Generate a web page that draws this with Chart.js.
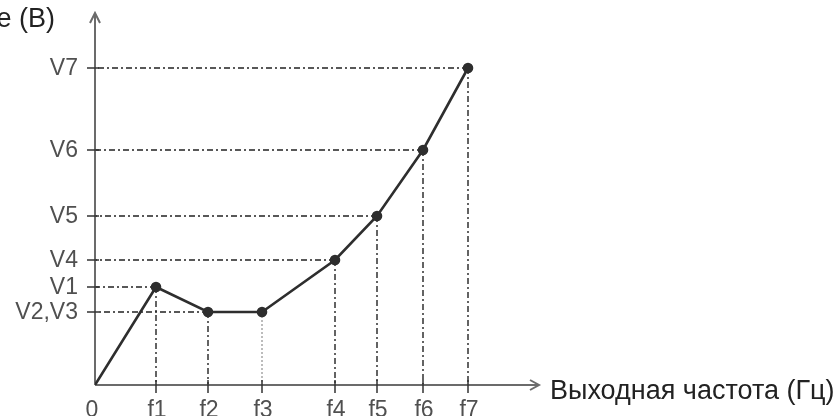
<!DOCTYPE html>
<html>
<head>
<meta charset="utf-8">
<script src="https://cdn.jsdelivr.net/npm/chart.js@4/dist/chart.umd.min.js"></script>
<style>
  html, body { margin: 0; padding: 0; background: #fff; overflow: hidden; }
  #wrap { width: 835px; height: 416px; }
</style>
</head>
<body>
<div id="wrap"><canvas id="vfChart" width="835" height="416"></canvas></div>
<script>
// V/F curve points (arbitrary units)
const freqLabels = ['0', 'f1', 'f2', 'f3', 'f4', 'f5', 'f6', 'f7'];
const freqValues = [0, 61, 113, 167, 240, 282, 328, 373];
const voltLabels = ['', 'V1', 'V2,V3', '', 'V4', 'V5', 'V6', 'V7'];
const voltValues = [0, 98, 73, 73, 125, 169, 235, 317];

const xAxisTitle = 'Выходная частота (Гц)';
const yAxisTitle = 'Выходное напряжение (В)';

const X_MAX = 444;
const Y_MAX = 372;

const points = freqValues.map((f, i) => ({ x: f, y: voltValues[i] }));

const axisColor = '#6b6b6b';
const lineColor = '#2e2e2e';
const labelColor = '#505050';

const schemePlugin = {
    id: 'scheme',
    beforeDatasetsDraw(chart) {
        const { ctx, scales: { x, y } } = chart;
        const x0 = x.getPixelForValue(0);
        const y0 = y.getPixelForValue(0);
        ctx.save();
        ctx.lineWidth = 1.4;
        // dashed guides from each point to the axes
        for (let i = 1; i < freqValues.length; i++) {
            const px = x.getPixelForValue(freqValues[i]);
            const py = y.getPixelForValue(voltValues[i]);
            ctx.strokeStyle = i === 3 ? '#a0a0a0' : '#222';
            ctx.setLineDash(i === 3 ? [2, 2] : [6, 3, 2, 3]);
            ctx.beginPath();
            ctx.moveTo(px, py);
            ctx.lineTo(px, y0);
            if (voltLabels[i]) {
                ctx.moveTo(px, py);
                ctx.lineTo(x0, py);
            }
            ctx.stroke();
        }
        ctx.setLineDash([]);

        // axes with open arrow heads
        ctx.strokeStyle = axisColor;
        ctx.lineWidth = 2;
        const xEnd = x.getPixelForValue(X_MAX);
        const yEnd = y.getPixelForValue(Y_MAX);
        ctx.beginPath();
        ctx.moveTo(x0, y0);
        ctx.lineTo(xEnd, y0);
        ctx.moveTo(xEnd - 9, y0 - 5);
        ctx.lineTo(xEnd, y0);
        ctx.lineTo(xEnd - 9, y0 + 5);
        ctx.moveTo(x0, y0);
        ctx.lineTo(x0, yEnd);
        ctx.moveTo(x0 - 5, yEnd + 10);
        ctx.lineTo(x0, yEnd);
        ctx.lineTo(x0 + 5, yEnd + 10);
        ctx.stroke();

        // tick marks
        ctx.strokeStyle = '#333';
        ctx.lineWidth = 1.5;
        ctx.beginPath();
        for (let i = 1; i < freqValues.length; i++) {
            const px = x.getPixelForValue(freqValues[i]);
            ctx.moveTo(px, y0 - 5);
            ctx.lineTo(px, y0 + 8);
            if (voltLabels[i]) {
                const py = y.getPixelForValue(voltValues[i]);
                ctx.moveTo(x0 - 8, py);
                ctx.lineTo(x0 + 4, py);
            }
        }
        ctx.stroke();

        // tick labels
        ctx.fillStyle = labelColor;
        ctx.font = '23px "Liberation Sans", Arial, sans-serif';
        ctx.textAlign = 'center';
        ctx.textBaseline = 'alphabetic';
        freqLabels.forEach((lab, i) => {
            const dx = i === 0 ? -3 : 1;
            ctx.fillText(lab, x.getPixelForValue(freqValues[i]) + dx, 417);
        });
        ctx.textAlign = 'right';
        ctx.textBaseline = 'middle';
        voltLabels.forEach((lab, i) => {
            if (lab) ctx.fillText(lab, x0 - 17, y.getPixelForValue(voltValues[i]) + 1);
        });

        // axis titles
        ctx.fillStyle = '#222';
        ctx.font = '27px "Liberation Sans", Arial, sans-serif';
        ctx.textAlign = 'left';
        ctx.textBaseline = 'alphabetic';
        ctx.fillText(xAxisTitle, xEnd + 11, y0 + 14);
        ctx.textAlign = 'right';
        ctx.fillText(yAxisTitle, 55, 27);
        ctx.restore();
    }
};

new Chart(document.getElementById('vfChart'), {
    type: 'scatter',
    data: {
        datasets: [{
            data: points,
            showLine: true,
            borderColor: lineColor,
            borderWidth: 2.6,
            backgroundColor: lineColor,
            pointRadius: points.map((p, i) => i === 0 ? 0 : 4),
            pointHoverRadius: 4,
            tension: 0
        }]
    },
    options: {
        responsive: false,
        animation: false,
        layout: { padding: { left: 95, right: 296, top: 13, bottom: 31 } },
        scales: {
            x: { type: 'linear', min: 0, max: X_MAX, display: false },
            y: { type: 'linear', min: 0, max: Y_MAX, display: false }
        },
        plugins: {
            legend: { display: false },
            tooltip: { enabled: false }
        }
    },
    plugins: [schemePlugin]
});
</script>
</body>
</html>
